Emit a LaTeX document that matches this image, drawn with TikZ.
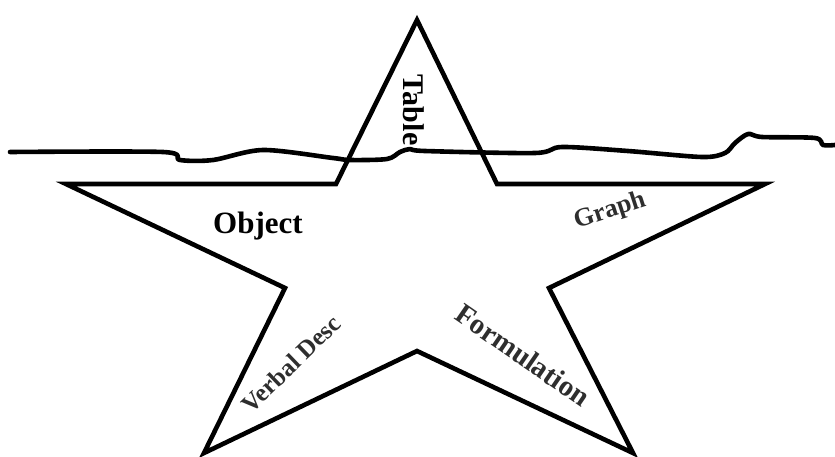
\documentclass[tikz,border=0pt]{standalone}
\usepackage{fontspec}
\setmainfont{Liberation Serif}
\usepackage{xcolor}
\definecolor{ink}{HTML}{000000}
\definecolor{smudge}{HTML}{2E2E2E}
\tikzset{
  outline/.style={draw=ink, line width=4.6pt, line join=miter},
  sealine/.style={draw=ink, line width=4.6pt, line cap=round, line join=round},
  word/.style={font=\bfseries\fontsize{30}{34}\selectfont, text=ink, inner sep=0pt},
  fuzzy/.style={word, text=smudge},
}

\begin{document}
\begin{tikzpicture}[x=1pt,y=-1pt]
  \useasboundingbox (0,0) rectangle (835,456);

  % the star
  \draw[outline] (417,20) -- (497,184) -- (765,184) -- (549,288) -- (633,453)
    -- (417,351) -- (204,453) -- (285,288) -- (66,184) -- (336,184) -- cycle;

  % the water line
  \draw[sealine] plot[smooth, tension=0.5] coordinates {
    (10,152) (163,152) (180,160) (213,160) (263,150) (333,158) (350,160)
    (387,159) (400,152) (410,149) (425,151) (535,153) (562,147) (628,151)
    (702,157) (725,153) (735,143) (748,134) (762,137) (815,138) (823,145) (835,145)};

  \node[word, rotate=-90] (table) at (414,110) {Table};
  \node[word, font=\bfseries\fontsize{31}{34}\selectfont] (object) at (258,226) {Object};
  \node[fuzzy, font=\bfseries\fontsize{26}{30}\selectfont, rotate=18] (graph) at (610,211) {Graph};
  \node[fuzzy, font=\bfseries\fontsize{25}{28}\selectfont, rotate=44] (verbal) at (291,364) {Verbal Desc};
  \node[fuzzy, font=\bfseries\fontsize{29}{32}\selectfont, rotate=-34.6] (formula) at (523,355) {Formulation};
\end{tikzpicture}
\end{document}
